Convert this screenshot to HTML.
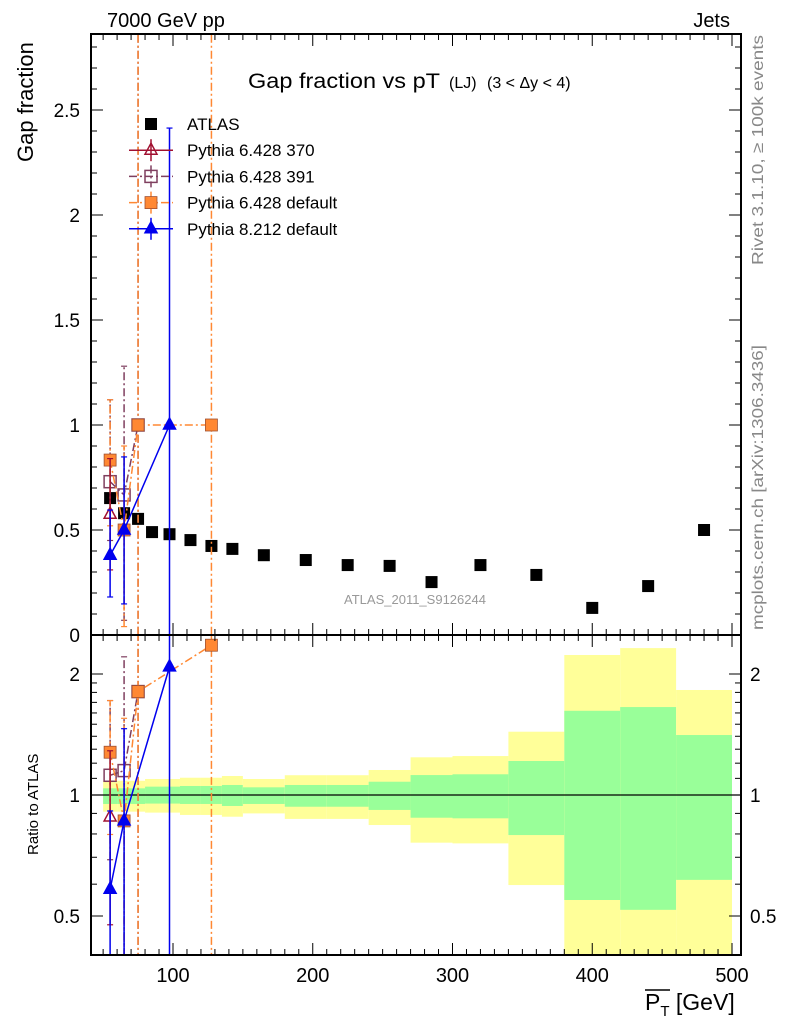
<!DOCTYPE html>
<html><head><meta charset="utf-8"><style>
html,body{margin:0;background:#fff;overflow:hidden;width:786px;height:1024px;}
svg{display:block;font-family:"Liberation Sans",sans-serif;}
</style></head><body>
<svg id="c" width="786" height="1024" viewBox="0 0 786 1024" xmlns="http://www.w3.org/2000/svg">
<text x="107" y="27" font-size="20">7000 GeV pp</text>
<text x="730" y="27" font-size="20" text-anchor="end">Jets</text>
<text y="88" font-size="21"><tspan x="248" textLength="192" lengthAdjust="spacingAndGlyphs">Gap fraction vs pT</tspan><tspan x="449" font-size="16">(LJ)</tspan><tspan x="487" font-size="16">(3 &lt; Δy &lt; 4)</tspan></text>
<text transform="translate(33,162) rotate(-90)" font-size="22">Gap fraction</text>
<text transform="translate(38,855) rotate(-90)" font-size="15">Ratio to ATLAS</text>
<text transform="translate(763,265) rotate(-90)" font-size="16" fill="#888" textLength="230" lengthAdjust="spacingAndGlyphs">Rivet 3.1.10, ≥ 100k events</text>
<text transform="translate(763,630) rotate(-90)" font-size="16" fill="#888" textLength="285" lengthAdjust="spacingAndGlyphs">mcplots.cern.ch [arXiv:1306.3436]</text>
<text x="415" y="604" font-size="13" fill="#999" text-anchor="middle">ATLAS_2011_S9126244</text>
<text x="645" y="1010" font-size="23">P<tspan font-size="15" dy="6">T</tspan><tspan dy="-6"> [GeV]</tspan></text>
<line x1="645" y1="990" x2="670" y2="990" stroke="#000" stroke-width="1.5"/>
<g id="g"></g>
</svg>
<script>
// data
const binEdges=[50,60,70,80,90,105,120,135,150,180,210,240,270,300,340,380,420,460,500];
const atlasY=[0.652,0.58,0.553,0.49,0.48,0.452,0.424,0.41,0.38,0.357,0.333,0.329,0.252,0.333,0.286,0.129,0.233,0.5];
const yellowHi=[1.085,1.085,1.085,1.096,1.096,1.104,1.104,1.115,1.096,1.12,1.12,1.154,1.241,1.25,1.437,2.23,2.32,1.825];
const greenHi=[1.039,1.039,1.039,1.049,1.049,1.053,1.053,1.059,1.045,1.059,1.059,1.079,1.121,1.126,1.215,1.62,1.655,1.41];
const greenLo=[0.95,0.95,0.95,0.952,0.952,0.95,0.95,0.939,0.95,0.935,0.935,0.918,0.878,0.875,0.795,0.548,0.518,0.615];
const yellowLo=[0.909,0.909,0.909,0.904,0.904,0.892,0.892,0.883,0.90,0.872,0.872,0.842,0.761,0.758,0.597,0.3,0.3,0.3];
// MC series: bin index, value, err low, err high
const p370Idx=[0], p370Val=[0.575], p370Lo=[0.31], p370Hi=[0.84];
const p391Idx=[0,1,2], p391Val=[0.73,0.667,1.0], p391Lo=[0.45,0.07,0], p391Hi=[1.12,1.28,5];
const pdefIdx=[0,1,2,6], pdefVal=[0.833,0.5,1.0,1.0], pdefLo=[0.52,0.04,0,0], pdefHi=[1.12,0.9,5,5];
const p8Idx=[0,1,4], p8Val=[0.38,0.5,1.0], p8Lo=[0.181,0.148,0], p8Hi=[0.595,0.848,2.414];
const xTicks=[100,200,300,400,500];
const yTicks=[0.5,1,1.5,2,2.5];
const rTicks=[0.5,1,2];

const X0=91,X1=741,T=34,M=635,B=955;
const sx=v=>173+(v-100)*1.3975;
const sy=v=>635-v*210;
const sr=v=>795-121*Math.log2(v);
const g=document.getElementById('g');
const NS='http://www.w3.org/2000/svg';
function el(t,a,p){const e=document.createElementNS(NS,t);for(const k in a)e.setAttribute(k,a[k]);(p||g).appendChild(e);return e;}
const cen=i=>(binEdges[i]+binEdges[i+1])/2;
const clipM=el('clipPath',{id:'cm'});el('rect',{x:X0,y:T,width:X1-X0,height:M-T},clipM);
const clipR=el('clipPath',{id:'cr'});el('rect',{x:X0,y:M,width:X1-X0,height:B-M},clipR);
const gm=el('g',{'clip-path':'url(#cm)'});
const gr=el('g',{'clip-path':'url(#cr)'});
for(let i=0;i<atlasY.length;i++){
 const x=sx(binEdges[i]),w=sx(binEdges[i+1])-x;
 const y=el('rect',{x:x,y:sr(yellowHi[i]),width:w,height:sr(yellowLo[i])-sr(yellowHi[i]),fill:'#ffff99'},gr);
 
 
 const gg=el('rect',{x:x,y:sr(greenHi[i]),width:w,height:sr(greenLo[i])-sr(greenHi[i]),fill:'#99ff99'},gr);
 
 
}
el('line',{x1:X0,x2:X1,y1:sr(1),y2:sr(1),stroke:'#000','stroke-width':1.2},gr);
atlasY.forEach((v,i)=>{
 const r=el('rect',{x:sx(cen(i))-6,y:sy(v)-6,width:12,height:12,fill:'#000'},gm);
 
 
});
function marker(parent,type,col,x,y){
 if(type==='tri'||type==='otri'){
  return el('polygon',{points:`${x},${y-7} ${x-6},${y+4} ${x+6},${y+4}`,fill:type==='tri'?col:'none',stroke:col,'stroke-width':1.5},parent);}
 if(type==='osq') return el('rect',{x:x-6,y:y-6,width:12,height:12,fill:'none',stroke:col,'stroke-width':1.5},parent);
 return el('rect',{x:x-6,y:y-6,width:12,height:12,fill:col,stroke:'#a05030','stroke-width':0.8},parent);
}
function series(name,idx,val,lo,hi,col,type,dash){
 [[gm,sy,false],[gr,sr,true]].forEach(([par,S,ratio])=>{
  const pts=idx.map((k,j)=>{const a=ratio?atlasY[k]:1;return [sx(cen(k)),S(Math.max(val[j]/a,1e-3))];});
  const ln=el('polyline',{points:pts.map(p=>p.join(',')).join(' '),fill:'none',stroke:col,'stroke-width':1.5,'stroke-dasharray':dash||'none'},par);
  
  
  idx.forEach((k,j)=>{
   const a=ratio?atlasY[k]:1,x=sx(cen(k));
   const y1=S(Math.max(lo[j]/a,1e-3)),y2=S(hi[j]/a);
   const e=el('line',{x1:x,x2:x,y1:y1,y2:y2,stroke:col,'stroke-width':1.5,'stroke-dasharray':dash||'none'},par);
   
   
   el('line',{x1:x-3,x2:x+3,y1:y1,y2:y1,stroke:col,'stroke-width':1.2},par);
   el('line',{x1:x-3,x2:x+3,y1:y2,y2:y2,stroke:col,'stroke-width':1.2},par);
   const m=marker(par,type,col,pts[j][0],pts[j][1]);
   
   
  });
 });
}
series('pythia6-391',p391Idx,p391Val,p391Lo,p391Hi,'#7f3f5f','osq','8,3,2,3');
series('pythia6-default',pdefIdx,pdefVal,pdefLo,pdefHi,'#ff8833','sq','8,3,2,3');
series('pythia6-370',p370Idx,p370Val,p370Lo,p370Hi,'#a01030','otri',null);
series('pythia8-default',p8Idx,p8Val,p8Lo,p8Hi,'#0000ee','tri',null);
el('rect',{x:X0,y:T,width:X1-X0,height:M-T,fill:'none',stroke:'#000','stroke-width':2});
el('rect',{x:X0,y:M,width:X1-X0,height:B-M,fill:'none',stroke:'#000','stroke-width':2});
for(let v=50;v<=500;v+=10){const x=sx(v),L=(v%100===0)?12:6;
 [[M,-1],[T,1],[B,-1],[M,1]].forEach(([y,d])=>el('line',{x1:x,x2:x,y1:y,y2:y+d*L,stroke:'#000','stroke-width':1}));}
xTicks.forEach(v=>{const t=el('text',{x:sx(v),y:982,'font-size':20,'text-anchor':'middle'});t.textContent=v;
 
 });
for(let k=1;k<=28;k++){const v=k/10,y=sy(v),L=(k%5===0)?12:6;
 el('line',{x1:X0,x2:X0+L,y1:y,y2:y,stroke:'#000'});el('line',{x1:X1,x2:X1-L,y1:y,y2:y,stroke:'#000'});}
[0].concat(yTicks).forEach(v=>{const t=el('text',{x:80,y:sy(v)+7,'font-size':19,'text-anchor':'end'});t.textContent=v;
 
 });
[0.4,0.5,0.6,0.7,0.8,0.9,1,1.1,1.2,1.3,1.4,1.5,1.6,1.7,1.8,1.9,2].forEach(v=>{const y=sr(v),L=rTicks.includes(v)?12:6;
 el('line',{x1:X0,x2:X0+L,y1:y,y2:y,stroke:'#000'});el('line',{x1:X1,x2:X1-L,y1:y,y2:y,stroke:'#000'});});
rTicks.forEach(v=>{
 const t=el('text',{x:80,y:sr(v)+7,'font-size':19,'text-anchor':'end'});t.textContent=v;
 
 
 const t2=el('text',{x:750,y:sr(v)+7,'font-size':19});t2.textContent=v;
 
 });
const leg=[['ATLAS','#000','sq0',null],['Pythia 6.428 370','#a01030','otri',null],['Pythia 6.428 391','#7f3f5f','osq','8,3,2,3'],['Pythia 6.428 default','#ff8833','sq','8,3,2,3'],['Pythia 8.212 default','#0000ee','tri',null]];
leg.forEach((l,i)=>{const y=124+i*26.2;
 const lg=el('g',{});
 
 
 if(i>0){el('line',{x1:129,x2:173,y1:y,y2:y,stroke:l[1],'stroke-width':1.5,'stroke-dasharray':l[3]||'none'},lg);
  el('line',{x1:151,x2:151,y1:y-11,y2:y+11,stroke:l[1],'stroke-width':1.5,'stroke-dasharray':l[3]||'none'},lg);}
 if(l[2]==='sq0')el('rect',{x:145,y:y-6,width:12,height:12,fill:'#000'},lg);else marker(lg,l[2],l[1],151,y);
 const t=el('text',{x:187,y:y+6,'font-size':17},lg);t.textContent=l[0];});
</script>
</body></html>
